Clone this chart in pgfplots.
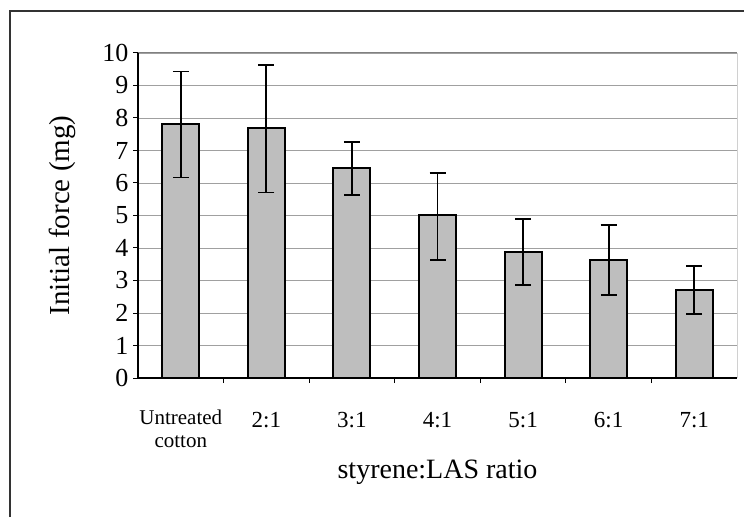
\documentclass[border=0pt]{standalone}
\usepackage{fontspec}
\setmainfont{Liberation Serif}
\usepackage{pgfplots}
\pgfplotsset{compat=1.18}
\usepackage{pgfplotstable}

% initial force (mg) with upper / lower error
\pgfplotstableread{
x  y     ep    em
0  7.80  1.63  1.63
1  7.70  1.93  1.99
2  6.45  0.80  0.82
3  5.02  1.28  1.39
4  3.89  0.99  1.03
5  3.63  1.08  1.08
6  2.71  0.74  0.75
}\forcedata

\definecolor{barfill}{RGB}{190,190,190}
\definecolor{gridgray}{RGB}{160,160,160}

\begin{document}
\begin{tikzpicture}[x=1pt,y=1pt]
\useasboundingbox (0,0) rectangle (744,517);
% outer chart frame
\draw[line width=1.4pt, black!80] (10,0) -- (10,506) -- (744,506);
\begin{axis}[
  at={(138pt,139pt)}, anchor=south west,
  scale only axis, width=599pt, height=325pt,
  xmin=-0.5, xmax=6.5, ymin=0, ymax=10,
  axis line style={draw=none},
  xtick pos=bottom, ytick pos=left,
  ytick={0,...,10},
  ymajorgrids,
  grid style={gridgray, line width=0.7pt},
  tick align=outside,
  major tick length=5pt,
  tick style={black, line width=1pt},
  /pgf/number format/assume math mode=true,
  yticklabel style={font=\fontsize{26}{27}\selectfont, anchor=east, xshift=-1pt},
  xtick={0.5,1.5,...,5.5},
  xticklabels={},
  extra x ticks={0,...,6},
  extra x tick labels={{\raisebox{3pt}{\fontsize{21}{23}\selectfont\begin{tabular}[t]{@{}c@{}}Untreated\\cotton\end{tabular}}},2:1,3:1,4:1,5:1,6:1,7:1},
  extra x tick style={major tick length=0pt, tick label style={font=\fontsize{23}{24}\selectfont, anchor=base, yshift=-49pt}},
  xlabel={styrene:LAS ratio},
  xlabel style={font=\fontsize{28}{30}\selectfont, at={([yshift=-100pt]axis description cs:0.5,0)}, anchor=base},
  ylabel={Initial force (mg)},
  ylabel style={font=\fontsize{29}{31}\selectfont, at={([xshift=-68pt]axis description cs:0,0.5)}, anchor=base, rotate=0},
  clip=false,
]
\addplot[ybar, bar width=37pt, fill=barfill, draw=black, line width=2pt,
  error bars/.cd, y dir=both, y explicit,
  error mark options={black, line width=1.8pt, mark size=8pt, rotate=90},
  error bar style={black, line width=1.8pt}]
  table[x=x, y=y, y error plus=ep, y error minus=em] {\forcedata};
% plot area border and axes
\draw[gridgray!80!black, line width=1pt] (axis cs:-0.5,10) -- (axis cs:6.5,10);
\draw[gridgray!50, line width=0.7pt] (axis cs:6.5,10) -- (axis cs:6.5,0);
\draw[black, line width=1.2pt] (axis cs:-0.5,0) -- (axis cs:6.5,0);
\draw[black, line width=1.2pt] (axis cs:-0.5,0) -- (axis cs:-0.5,10);
\end{axis}
\end{tikzpicture}
\end{document}
